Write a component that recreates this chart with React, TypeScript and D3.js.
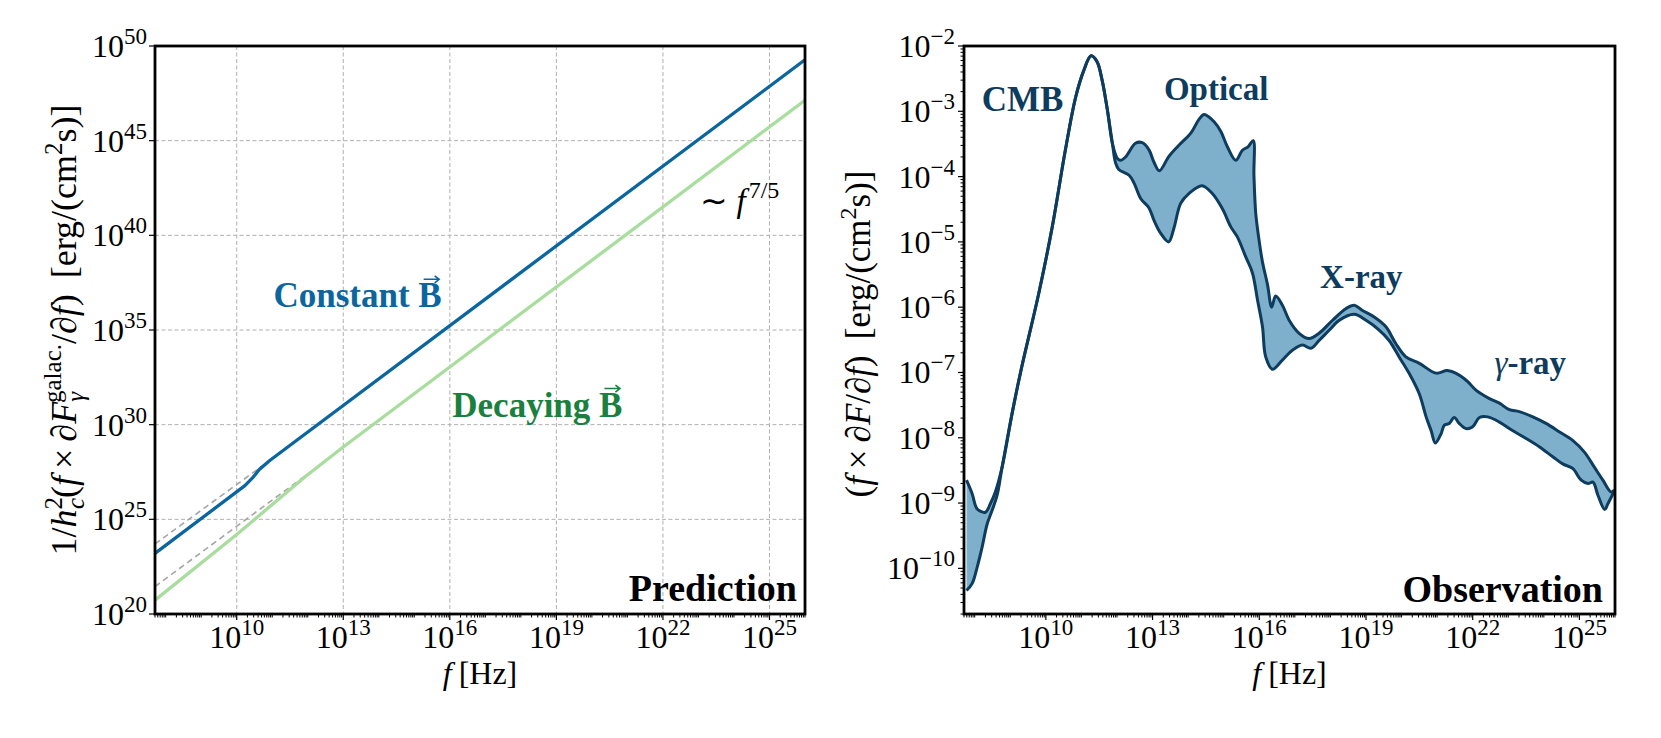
import React from 'react';
import * as d3 from 'd3';

const FONT = "'Liberation Serif', 'Times New Roman', serif";
const BLUE = '#0b66a0';
const GREEN_LINE = '#a8dd9e';
const GREEN_TEXT = '#1a803e';
const NAVY = '#0d3c5e';
const BAND = '#7fb0cb';

// axis limits
const freqDomain: [number, number] = [5e7, 1e26];
const predDomain: [number, number] = [1e20, 1e50];
const obsDomain: [number, number] = [2e-11, 1e-2];

// tick exponents
const freqTickExps = [10, 13, 16, 19, 22, 25];
const predTickExps = [20, 25, 30, 35, 40, 45, 50];
const obsTickExps = [-10, -9, -8, -7, -6, -5, -4, -3, -2];

// prediction curves, [log10 f, log10 value]
const constantB = [[7.699, 23.2], [10.23, 26.78], [10.45, 27.2], [10.62, 27.6], [10.93, 28.11], [25.99, 49.26]];
const constantAsym = [[7.699, 23.7], [10.93, 28.11]];
const decayingB = [[7.699, 20.73], [9.99, 24.19], [10.46, 24.93], [11.96, 27.3], [12.99, 28.81], [25.99, 47.12]];
const decayingAsym = [[7.699, 21.45], [12.0, 27.4]];

// observed band, upper edge, [log10 f, log10 flux]
const obsUpper = [
  [7.77, -8.65], [7.93, -8.86], [8.07, -9.09], [8.30, -9.14], [8.44, -9.01], [8.58, -8.83],
  [8.77, -8.45], [9.05, -7.63], [9.30, -6.97], [9.80, -5.79], [10.18, -4.77], [10.55, -3.59],
  [10.84, -2.78], [11.07, -2.37], [11.27, -2.15], [11.44, -2.24], [11.58, -2.52], [11.73, -2.98],
  [11.87, -3.49], [12.01, -3.72], [12.10, -3.75], [12.24, -3.70], [12.52, -3.49], [12.71, -3.48],
  [12.90, -3.59], [13.04, -3.78], [13.19, -3.91], [13.46, -3.69], [13.74, -3.52], [14.08, -3.33],
  [14.31, -3.12], [14.45, -3.05], [14.73, -3.16], [14.92, -3.31], [15.10, -3.54], [15.34, -3.75],
  [15.52, -3.60], [15.69, -3.54], [15.83, -3.45], [15.85, -3.98], [15.90, -4.56], [15.98, -4.92],
  [16.09, -5.31], [16.23, -5.65], [16.35, -6.00], [16.46, -5.83], [16.65, -5.97], [16.84, -6.20],
  [17.12, -6.40], [17.40, -6.48], [17.68, -6.40], [18.06, -6.20], [18.44, -6.02], [18.67, -5.97],
  [18.90, -6.05], [19.23, -6.15], [19.56, -6.30], [19.84, -6.56], [20.12, -6.76], [20.50, -6.86],
  [20.97, -7.01], [21.29, -6.97], [21.62, -7.04], [21.86, -7.14], [22.09, -7.27], [22.47, -7.40],
  [22.75, -7.47], [23.03, -7.57], [23.31, -7.60], [23.69, -7.68], [24.06, -7.78], [24.44, -7.91],
  [24.81, -8.04], [25.14, -8.22], [25.42, -8.45], [25.66, -8.65], [25.89, -8.83], [25.98, -8.80],
];

// observed band, lower edge
const obsLower = [
  [7.77, -10.34], [7.93, -10.23], [8.07, -9.98], [8.21, -9.67], [8.35, -9.32], [8.49, -9.11],
  [8.63, -8.88], [8.77, -8.45], [9.05, -7.63], [9.30, -6.97], [9.80, -5.79], [10.18, -4.77],
  [10.55, -3.59], [10.84, -2.78], [11.07, -2.37], [11.27, -2.15], [11.44, -2.24], [11.58, -2.52],
  [11.73, -2.98], [11.87, -3.49], [11.96, -3.79], [12.05, -3.89], [12.34, -3.98], [12.48, -4.10],
  [12.67, -4.34], [12.90, -4.48], [13.04, -4.67], [13.23, -4.87], [13.45, -5.00], [13.60, -4.79],
  [13.79, -4.41], [14.02, -4.26], [14.39, -4.14], [14.68, -4.26], [14.96, -4.49], [15.20, -4.77],
  [15.38, -4.92], [15.62, -5.23], [15.81, -5.48], [15.95, -5.89], [16.09, -6.30], [16.18, -6.76],
  [16.37, -6.95], [16.65, -6.81], [16.93, -6.66], [17.21, -6.58], [17.45, -6.63], [17.68, -6.51],
  [17.97, -6.35], [18.25, -6.20], [18.67, -6.11], [19.00, -6.20], [19.37, -6.35], [19.65, -6.51],
  [19.94, -6.77], [20.22, -7.02], [20.50, -7.33], [20.69, -7.68], [20.83, -7.89], [20.95, -8.08],
  [21.11, -7.94], [21.20, -7.81], [21.34, -7.78], [21.48, -7.69], [21.62, -7.78], [21.81, -7.86],
  [22.00, -7.83], [22.19, -7.69], [22.42, -7.68], [22.75, -7.76], [23.12, -7.89], [23.50, -8.01],
  [23.88, -8.14], [24.25, -8.29], [24.53, -8.40], [24.81, -8.47], [25.05, -8.65], [25.24, -8.70],
  [25.38, -8.68], [25.52, -8.88], [25.71, -9.10], [25.80, -9.01], [25.94, -8.86], [25.98, -8.80],
];

const TOP = 46;
const BOTTOM = 614;
const LEFT_PANEL: [number, number] = [155, 805];
const RIGHT_PANEL: [number, number] = [964, 1615];

const xL = d3.scaleLog().domain(freqDomain).range(LEFT_PANEL);
const xR = d3.scaleLog().domain(freqDomain).range(RIGHT_PANEL);
const yL = d3.scaleLog().domain(predDomain).range([BOTTOM, TOP]);
const yR = d3.scaleLog().domain(obsDomain).range([BOTTOM, TOP]);

const TICK_FS = 32;
const SUP_FS = 23;

function minorTicks(domain: [number, number], skip: number[]) {
  const out: number[] = [];
  const k0 = Math.floor(Math.log10(domain[0]));
  const k1 = Math.ceil(Math.log10(domain[1]));
  for (let k = k0; k <= k1; k++) {
    for (let m = 1; m < 10; m++) {
      const v = m * Math.pow(10, k);
      if (v < domain[0] * 0.999 || v > domain[1] * 1.001) continue;
      if (m === 1 && skip.includes(k)) continue;
      out.push(v);
    }
  }
  return out;
}

const Pow = ({ e }: { e: number }) => (
  <>
    <tspan>10</tspan>
    <tspan fontSize={SUP_FS} dy={-13}>{e < 0 ? `\u2212${-e}` : `${e}`}</tspan>
  </>
);

const Vec = ({ x, y, color }: { x: number; y: number; color: string }) => (
  <path
    d={`M${x - 8},${y} L${x + 7},${y} M${x + 3},${y - 3.5} L${x + 7.5},${y} L${x + 3},${y + 3.5}`}
    fill="none"
    stroke={color}
    strokeWidth={1.6}
  />
);

function XAxis({ x }: { x: d3.ScaleLogarithmic<number, number> }) {
  const minors = minorTicks(freqDomain, freqTickExps);
  return (
    <g>
      {minors.map((v, i) => (
        <line key={i} x1={x(v)} x2={x(v)} y1={BOTTOM} y2={BOTTOM + 3.5} stroke="#000" strokeWidth={1} />
      ))}
      {freqTickExps.map(e => (
        <g key={e}>
          <line x1={x(Math.pow(10, e))} x2={x(Math.pow(10, e))} y1={BOTTOM} y2={BOTTOM + 6} stroke="#000" strokeWidth={1.2} />
          <text x={x(Math.pow(10, e))} y={BOTTOM + 34} textAnchor="middle" fontSize={TICK_FS} fontFamily={FONT}>
            <Pow e={e} />
          </text>
        </g>
      ))}
      <text x={(x.range()[0] + x.range()[1]) / 2} y={684} textAnchor="middle" fontSize={32} fontFamily={FONT}>
        <tspan fontStyle="italic">f</tspan>
        <tspan dx={7}>[Hz]</tspan>
      </text>
    </g>
  );
}

export default function App() {
  const lineL = d3.line<number[]>()
    .x(d => xL(Math.pow(10, d[0])))
    .y(d => yL(Math.pow(10, d[1])));
  const lineR = d3.line<number[]>()
    .x(d => xR(Math.pow(10, d[0])))
    .y(d => yR(Math.pow(10, d[1])))
    .curve(d3.curveCatmullRom.alpha(0.5));

  const upperPath = lineR(obsUpper) || '';
  const lowerPath = lineR(obsLower) || '';
  const lowerRev = lineR([...obsLower].reverse()) || '';
  const bandPath = upperPath + lowerRev.replace(/^M/, 'L') + 'Z';

  const obsMinor = minorTicks(obsDomain, obsTickExps);

  const [l0, l1] = LEFT_PANEL;
  const [r0, r1] = RIGHT_PANEL;

  return (
    <svg width={1661} height={738} style={{ position: 'absolute', left: 0, top: 0, background: '#fff' }}>
      <defs>
        <clipPath id="clipL"><rect x={l0} y={TOP} width={l1 - l0} height={BOTTOM - TOP} /></clipPath>
        <clipPath id="clipR"><rect x={r0} y={TOP} width={r1 - r0} height={BOTTOM - TOP} /></clipPath>
      </defs>

      {/* ---------- left panel: prediction ---------- */}
      <g>
        {freqTickExps.map(e => (
          <line key={'gx' + e} x1={xL(Math.pow(10, e))} x2={xL(Math.pow(10, e))} y1={TOP} y2={BOTTOM}
            stroke="#b0b0b0" strokeWidth={1} strokeDasharray="4,2.5" />
        ))}
        {predTickExps.slice(1, -1).map(e => (
          <line key={'gy' + e} x1={l0} x2={l1} y1={yL(Math.pow(10, e))} y2={yL(Math.pow(10, e))}
            stroke="#b0b0b0" strokeWidth={1} strokeDasharray="4,2.5" />
        ))}
        <g clipPath="url(#clipL)">
          <path d={lineL(constantAsym) || ''} fill="none" stroke="#a6a6a6" strokeWidth={1.6} strokeDasharray="6,4" />
          <path d={lineL(decayingAsym) || ''} fill="none" stroke="#a6a6a6" strokeWidth={1.6} strokeDasharray="6,4" />
          <path d={lineL(decayingB) || ''} fill="none" stroke={GREEN_LINE} strokeWidth={3.3} strokeLinejoin="round" />
          <path d={lineL(constantB) || ''} fill="none" stroke={BLUE} strokeWidth={3.3} strokeLinejoin="round" />
        </g>

        <text x={xL(Math.pow(10, 15.77))} y={yL(Math.pow(10, 36.2))} textAnchor="end" fontSize={35}
          fontWeight="bold" fontFamily={FONT} fill={BLUE}>Constant B</text>
        <Vec x={xL(Math.pow(10, 15.77)) - 10} y={yL(Math.pow(10, 36.2)) - 28} color={BLUE} />
        <text x={xL(Math.pow(10, 20.86))} y={yL(Math.pow(10, 30.43))} textAnchor="end" fontSize={35}
          fontWeight="bold" fontFamily={FONT} fill={GREEN_TEXT}>Decaying B</text>
        <Vec x={xL(Math.pow(10, 20.86)) - 10} y={yL(Math.pow(10, 30.43)) - 28} color={GREEN_TEXT} />
        <text x={xL(Math.pow(10, 23.03))} y={yL(Math.pow(10, 41.22))} fontSize={33} fontFamily={FONT}>
          <tspan>∼</tspan>
          <tspan dx={9} fontStyle="italic">f</tspan>
          <tspan dx={3} fontSize={24} dy={-14}>7/5</tspan>
        </text>
        <text x={l1 - 8} y={BOTTOM - 13} textAnchor="end" fontSize={38} fontWeight="bold" fontFamily={FONT}>Prediction</text>

        <rect x={l0} y={TOP} width={l1 - l0} height={BOTTOM - TOP} fill="none" stroke="#000" strokeWidth={2.8} />

        {predTickExps.map(e => (
          <g key={'ly' + e}>
            <line x1={l0 - 6} x2={l0} y1={yL(Math.pow(10, e))} y2={yL(Math.pow(10, e))} stroke="#000" strokeWidth={1.2} />
            <text x={l0 - 8} y={yL(Math.pow(10, e)) + 11} textAnchor="end" fontSize={TICK_FS} fontFamily={FONT}>
              <Pow e={e} />
            </text>
          </g>
        ))}
        <XAxis x={xL} />

        <text transform={`translate(76, ${(TOP + BOTTOM) / 2}) rotate(-90)`} textAnchor="middle" fontSize={36} fontFamily={FONT}>
          <tspan>1/</tspan>
          <tspan fontStyle="italic">h</tspan>
          <tspan fontSize={25} dy={-14}>2</tspan>
          <tspan fontSize={25} fontStyle="italic" dx={-12} dy={22}>c</tspan>
          <tspan dy={-8}>(</tspan>
          <tspan fontStyle="italic">f</tspan>
          <tspan dx={7}>×</tspan>
          <tspan dx={7}>∂</tspan>
          <tspan fontStyle="italic">F</tspan>
          <tspan fontSize={25} fontStyle="italic" dy={8}>γ</tspan>
          <tspan fontSize={25} dx={-11} dy={-23}>galac.</tspan>
          <tspan dy={15}>/∂</tspan>
          <tspan fontStyle="italic">f</tspan>
          <tspan>)</tspan>
          <tspan dx={16}>[erg/(cm</tspan>
          <tspan fontSize={25} dy={-14}>2</tspan>
          <tspan dy={14}>s)]</tspan>
        </text>
      </g>

      {/* ---------- right panel: observation ---------- */}
      <g>
        <g clipPath="url(#clipR)">
          <path d={bandPath} fill={BAND} stroke="none" />
          <path d={upperPath} fill="none" stroke={NAVY} strokeWidth={3} strokeLinejoin="round" />
          <path d={lowerPath} fill="none" stroke={NAVY} strokeWidth={3} strokeLinejoin="round" />
        </g>

        <text x={xR(Math.pow(10, 8.2))} y={yR(Math.pow(10, -3.0))} fontSize={35} fontWeight="bold" fontFamily={FONT} fill={NAVY}>CMB</text>
        <text x={xR(Math.pow(10, 13.32))} y={yR(Math.pow(10, -2.83))} fontSize={33} fontWeight="bold" fontFamily={FONT} fill={NAVY}>Optical</text>
        <text x={xR(Math.pow(10, 17.71))} y={yR(Math.pow(10, -5.7))} fontSize={33} fontWeight="bold" fontFamily={FONT} fill={NAVY}>X-ray</text>
        <text x={xR(Math.pow(10, 22.61))} y={yR(Math.pow(10, -7.02))} fontSize={33} fontFamily={FONT} fill={NAVY}>
          <tspan fontStyle="italic">γ</tspan>
          <tspan fontWeight="bold">-ray</tspan>
        </text>
        <text x={r1 - 12} y={BOTTOM - 12} textAnchor="end" fontSize={38} fontWeight="bold" fontFamily={FONT}>Observation</text>

        <rect x={r0} y={TOP} width={r1 - r0} height={BOTTOM - TOP} fill="none" stroke="#000" strokeWidth={2.8} />

        {obsMinor.map((v, i) => (
          <line key={'rm' + i} x1={r0 - 3.5} x2={r0} y1={yR(v)} y2={yR(v)} stroke="#000" strokeWidth={1} />
        ))}
        {obsTickExps.map(e => (
          <g key={'ry' + e}>
            <line x1={r0 - 6} x2={r0} y1={yR(Math.pow(10, e))} y2={yR(Math.pow(10, e))} stroke="#000" strokeWidth={1.2} />
            <text x={r0 - 9} y={yR(Math.pow(10, e)) + 11} textAnchor="end" fontSize={TICK_FS} fontFamily={FONT}>
              <Pow e={e} />
            </text>
          </g>
        ))}
        <XAxis x={xR} />

        <text transform={`translate(870, ${(TOP + BOTTOM) / 2 + 4}) rotate(-90)`} textAnchor="middle" fontSize={35} fontFamily={FONT}>
          <tspan>(</tspan>
          <tspan fontStyle="italic">f</tspan>
          <tspan dx={7}>×</tspan>
          <tspan dx={7}>∂</tspan>
          <tspan fontStyle="italic">F</tspan>
          <tspan>/∂</tspan>
          <tspan fontStyle="italic">f</tspan>
          <tspan>)</tspan>
          <tspan dx={16}>[erg/(cm</tspan>
          <tspan fontSize={24} dy={-14}>2</tspan>
          <tspan dy={14}>s)]</tspan>
        </text>
      </g>
    </svg>
  );
}
